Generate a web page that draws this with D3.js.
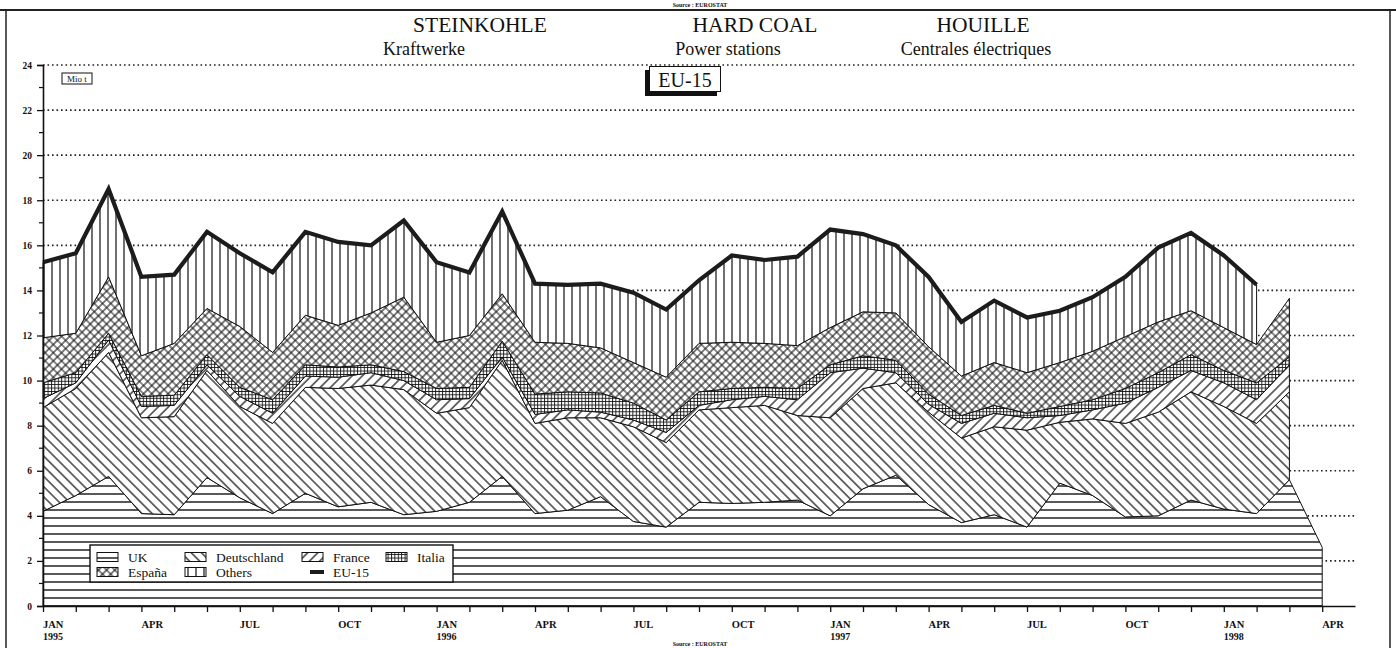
<!DOCTYPE html>
<html>
<head>
<meta charset="utf-8">
<script src="https://cdn.jsdelivr.net/npm/d3@7/dist/d3.min.js"></script>
<style>
  html, body { margin: 0; padding: 0; background: #fff; }
  svg { display: block; }
  text { font-family: "Liberation Serif", "Times New Roman", serif; fill: #111; }
</style>
</head>
<body>
<svg id="chart" width="1396" height="648"></svg>
<script>
// ---------------- DATA (Mio t, monthly from JAN 1995) ----------------
const monthNames = ["JAN","FEB","MAR","APR","MAY","JUN","JUL","AUG","SEP","OCT","NOV","DEC"];
const quarterLabels = ["JAN","APR","JUL","OCT"];
const yearLabels = ["1995","1996","1997","1998"];
const yTicks = [0,2,4,6,8,10,12,14,16,18,20,22,24];

const uk = [4.2,4.9,5.75,4.1,4.05,5.7,4.8,4.1,5.0,4.4,4.6,4.05,4.2,4.6,5.75,4.1,4.25,4.85,3.75,3.5,
            4.6,4.55,4.6,4.7,4.0,5.2,5.8,4.5,3.7,4.05,3.5,5.45,4.9,3.95,4.0,4.7,4.3,4.1,5.6,2.6];
const deutschland = [4.6,4.75,5.5,4.25,4.35,4.75,4.05,4.0,4.7,5.25,5.2,5.55,4.35,4.2,5.15,4.0,4.1,3.5,4.2,3.75,
            4.1,4.25,4.3,3.75,4.35,4.45,4.1,4.1,3.75,3.9,4.3,2.7,3.4,4.15,4.6,4.8,4.55,4.0,3.9];
const france = [0.4,0.25,0.55,0.5,0.5,0.25,0.45,0.45,0.5,0.5,0.55,0.4,0.6,0.4,0.15,0.4,0.35,0.25,0.3,0.45,
            0.2,0.35,0.4,0.7,2.0,0.9,0.45,0.35,0.65,0.6,0.55,0.3,0.4,0.9,1.1,0.95,1.05,1.05,1.2];
const italia = [0.7,0.45,0.3,0.45,0.45,0.45,0.4,0.6,0.5,0.45,0.35,0.4,0.5,0.5,0.7,0.9,0.8,0.85,0.75,0.55,
            0.6,0.5,0.4,0.5,0.35,0.55,0.55,0.45,0.35,0.35,0.2,0.4,0.45,0.65,0.65,0.7,0.55,0.75,0.35];
const espana = [2.0,1.75,2.5,1.8,2.3,2.05,2.7,2.1,2.2,1.85,2.3,3.3,2.05,2.3,2.1,2.3,2.15,2.0,1.8,1.9,
            2.15,2.05,1.95,1.9,1.65,1.95,2.1,2.1,1.75,1.9,1.8,1.95,2.15,2.3,2.25,1.95,1.9,1.7,2.6];
const others = [3.35,3.55,3.9,3.5,3.05,3.4,3.25,3.55,3.7,3.7,3.0,3.4,3.55,2.8,3.65,2.6,2.6,2.85,3.1,3.0,
            2.8,3.85,3.7,3.95,4.35,3.45,3.0,3.1,2.4,2.75,2.45,2.3,2.4,2.65,3.3,3.45,3.2,2.65];

const seriesNames = ["UK","Deutschland","France","Italia","España","Others"];
const seriesValues = [uk, deutschland, france, italia, espana, others];
const patternIds = ["p-uk","p-de","p-fr","p-it","p-es","p-ot"];

// ---------------- LAYOUT ----------------
const svg = d3.select("#chart");
const x = d3.scaleLinear().domain([0, 40]).range([43, 1355]);
const y = d3.scaleLinear().domain([0, 24]).range([606, 65]);

// ---------------- PATTERNS ----------------
const defs = svg.append("defs");
function linePattern(id, spacing, rot, sw) {
  const p = defs.append("pattern").attr("id", id).attr("patternUnits", "userSpaceOnUse")
    .attr("width", spacing).attr("height", spacing);
  if (rot) p.attr("patternTransform", `rotate(${rot})`);
  p.append("rect").attr("width", spacing).attr("height", spacing).attr("fill", "#fff");
  p.append("line").attr("x1", spacing / 2).attr("x2", spacing / 2).attr("y1", 0).attr("y2", spacing)
    .attr("stroke", "#111").attr("stroke-width", sw);
  return p;
}
// UK: horizontal lines
(function () {
  const p = defs.append("pattern").attr("id", "p-uk").attr("patternUnits", "userSpaceOnUse")
    .attr("width", 10).attr("height", 8).attr("y", 2);
  p.append("rect").attr("width", 10).attr("height", 8).attr("fill", "#fff");
  p.append("line").attr("x1", 0).attr("x2", 10).attr("y1", 4).attr("y2", 4)
    .attr("stroke", "#111").attr("stroke-width", 1.4);
})();
linePattern("p-de", 7.2, -45, 1.2);   // \\\
linePattern("p-fr", 7.2, 45, 1.2);    // ///
linePattern("p-ot", 8, 0, 1.2);       // |||
// Italia: fine square grid
(function () {
  const s = 3.4;
  const p = defs.append("pattern").attr("id", "p-it").attr("patternUnits", "userSpaceOnUse")
    .attr("width", s).attr("height", s);
  p.append("rect").attr("width", s).attr("height", s).attr("fill", "#fff");
  p.append("path").attr("d", `M0,0.5H${s}M0.5,0V${s}`).attr("stroke", "#111").attr("stroke-width", 0.9);
})();
// España: diagonal crosshatch
(function () {
  const s = 5.8;
  const p = defs.append("pattern").attr("id", "p-es").attr("patternUnits", "userSpaceOnUse")
    .attr("width", s).attr("height", s).attr("patternTransform", "rotate(45)");
  p.append("rect").attr("width", s).attr("height", s).attr("fill", "#fff");
  p.append("path").attr("d", `M0,${s/2}H${s}M${s/2},0V${s}`).attr("stroke", "#111").attr("stroke-width", 1.1);
})();

// ---------------- FRAME & TITLES ----------------
svg.append("line").attr("x1", 0).attr("x2", 1396).attr("y1", 10).attr("y2", 10)
  .attr("stroke", "#222").attr("stroke-width", 2);
svg.append("line").attr("x1", 6).attr("x2", 6).attr("y1", 10).attr("y2", 648)
  .attr("stroke", "#222").attr("stroke-width", 1.5);
svg.append("line").attr("x1", 1390).attr("x2", 1390).attr("y1", 10).attr("y2", 648)
  .attr("stroke", "#222").attr("stroke-width", 1.5);
svg.append("text").attr("x", 700).attr("y", 7).attr("text-anchor", "middle")
  .style("font-size", "6px").style("font-weight", "bold").text("Source : EUROSTAT");
svg.append("text").attr("x", 700).attr("y", 646).attr("text-anchor", "middle")
  .style("font-size", "6px").style("font-weight", "bold").text("Source : EUROSTAT");

const titles = [["STEINKOHLE", 480], ["HARD COAL", 755], ["HOUILLE", 983]];
const subtitles = [["Kraftwerke", 424], ["Power stations", 728], ["Centrales électriques", 976]];
svg.selectAll("text.title").data(titles).join("text").attr("class", "title")
  .attr("x", d => d[1]).attr("y", 32).attr("text-anchor", "middle")
  .style("font-size", "21.5px").text(d => d[0]);
svg.selectAll("text.subtitle").data(subtitles).join("text").attr("class", "subtitle")
  .attr("x", d => d[1]).attr("y", 55).attr("text-anchor", "middle")
  .style("font-size", "18px").text(d => d[0]);

// ---------------- GRID ----------------
svg.append("g").selectAll("line").data(yTicks.filter(v => v > 0)).join("line")
  .attr("x1", x(0)).attr("x2", x(40)).attr("y1", d => y(d)).attr("y2", d => y(d))
  .attr("stroke", "#222").attr("stroke-width", 1.6).attr("stroke-dasharray", "1.6,2.9");

// ---------------- STACKED AREAS ----------------
const rows = d3.range(40).map(i => {
  const r = { i };
  seriesNames.forEach((k, j) => { r[k] = seriesValues[j][i] ?? 0; });
  return r;
});
const stacked = d3.stack().keys(seriesNames)(rows);
const area = d3.area()
  .x(d => x(d.data.i)).y0(d => y(d[0])).y1(d => y(d[1]));

stacked.forEach((layer, j) => {
  const n = seriesValues[j].length;
  const pts = layer.filter(d => d.data.i < n);
  svg.append("path").datum(pts)
    .attr("d", area)
    .attr("fill", `url(#${patternIds[j]})`)
    .attr("stroke", "#111").attr("stroke-width", 1).attr("stroke-linejoin", "miter");
});

// EU-15 total line = top of stack where all series exist
const topLayer = stacked[stacked.length - 1].filter(d => d.data.i < others.length);
svg.append("path").datum(topLayer)
  .attr("d", d3.line().x(d => x(d.data.i)).y(d => y(d[1])))
  .attr("fill", "none").attr("stroke", "#1c1c1c").attr("stroke-width", 4.2)
  .attr("stroke-linejoin", "miter").attr("stroke-miterlimit", 6);

// ---------------- AXES ----------------
const yAxis = svg.append("g").attr("transform", `translate(${x(0)},0)`)
  .call(d3.axisLeft(y).tickValues(yTicks).tickSize(6).tickPadding(5).tickFormat(d3.format("d")));
yAxis.select(".domain").attr("stroke", "#111").attr("stroke-width", 1.6);
yAxis.selectAll(".tick line").attr("stroke", "#111").attr("stroke-width", 1.3);
yAxis.selectAll(".tick text").style("font-family", "Liberation Serif, serif")
  .style("font-size", "9.5px").style("font-weight", "bold").attr("fill", "#111");
// minor y ticks
svg.append("g").selectAll("line").data(d3.range(1, 24, 2)).join("line")
  .attr("x1", x(0) - 4).attr("x2", x(0)).attr("y1", d => y(d)).attr("y2", d => y(d))
  .attr("stroke", "#111").attr("stroke-width", 1.2);

const xAxis = svg.append("g").attr("transform", `translate(0,${y(0)})`)
  .call(d3.axisBottom(x).tickValues(d3.range(40)).tickSize(6).tickSizeOuter(0).tickFormat(""));
xAxis.select(".domain").attr("stroke", "#111").attr("stroke-width", 1.6);
xAxis.selectAll(".tick line").attr("stroke", "#111").attr("stroke-width", 1.3);

const qTicks = d3.range(0, 40, 3).map(i => ({
  i, label: quarterLabels[(i % 12) / 3], year: i % 12 === 0 ? yearLabels[i / 12] : null
}));
const xl = svg.append("g");
xl.selectAll("text.m").data(qTicks).join("text").attr("class", "m")
  .attr("x", d => x(d.i)).attr("y", 628)
  .style("font-size", "10.5px").style("font-weight", "bold").text(d => d.label);
xl.selectAll("text.yr").data(qTicks.filter(d => d.year)).join("text").attr("class", "yr")
  .attr("x", d => x(d.i)).attr("y", 640)
  .style("font-size", "10px").style("font-weight", "bold").text(d => d.year);

// ---------------- LABEL BOXES ----------------
const mio = svg.append("g");
mio.append("rect").attr("x", 62).attr("y", 73).attr("width", 30).attr("height", 11)
  .attr("fill", "#fff").attr("stroke", "#111").attr("stroke-width", 1);
mio.append("text").attr("x", 77).attr("y", 82).attr("text-anchor", "middle")
  .style("font-size", "9px").text("Mio t");

const eu = svg.append("g");
eu.append("rect").attr("x", 645).attr("y", 70).attr("width", 72).attr("height", 26).attr("fill", "#111");
eu.append("rect").attr("x", 649.5).attr("y", 66.5).attr("width", 71).attr("height", 25)
  .attr("fill", "#fff").attr("stroke", "#111").attr("stroke-width", 1);
eu.append("text").attr("x", 685).attr("y", 87).attr("text-anchor", "middle")
  .style("font-size", "20px").text("EU-15");

// ---------------- LEGEND ----------------
const legendItems = [
  { name: "UK", pat: "p-uk", col: 0, row: 0 },
  { name: "Deutschland", pat: "p-de", col: 1, row: 0 },
  { name: "France", pat: "p-fr", col: 2, row: 0 },
  { name: "Italia", pat: "p-it", col: 3, row: 0 },
  { name: "España", pat: "p-es", col: 0, row: 1 },
  { name: "Others", pat: "p-ot", col: 1, row: 1 },
  { name: "EU-15", pat: null, col: 2, row: 1 }
];
const colX = [97, 185, 302, 386];
const lg = svg.append("g");
lg.append("rect").attr("x", 90).attr("y", 545).attr("width", 363).attr("height", 37)
  .attr("fill", "#fff").attr("stroke", "#111").attr("stroke-width", 1.4);
legendItems.forEach(it => {
  const lx = colX[it.col], ly = 557 + it.row * 15;
  if (it.pat) {
    lg.append("rect").attr("x", lx).attr("y", ly - 4.5).attr("width", 21).attr("height", 9)
      .attr("fill", `url(#${it.pat})`).attr("stroke", "#111").attr("stroke-width", 1);
  } else {
    lg.append("rect").attr("x", lx + 8).attr("y", ly - 2).attr("width", 14).attr("height", 4).attr("fill", "#1c1c1c");
  }
  lg.append("text").attr("x", lx + 31).attr("y", ly + 4.5).style("font-size", "13.5px").text(it.name);
});
</script>
</body>
</html>
